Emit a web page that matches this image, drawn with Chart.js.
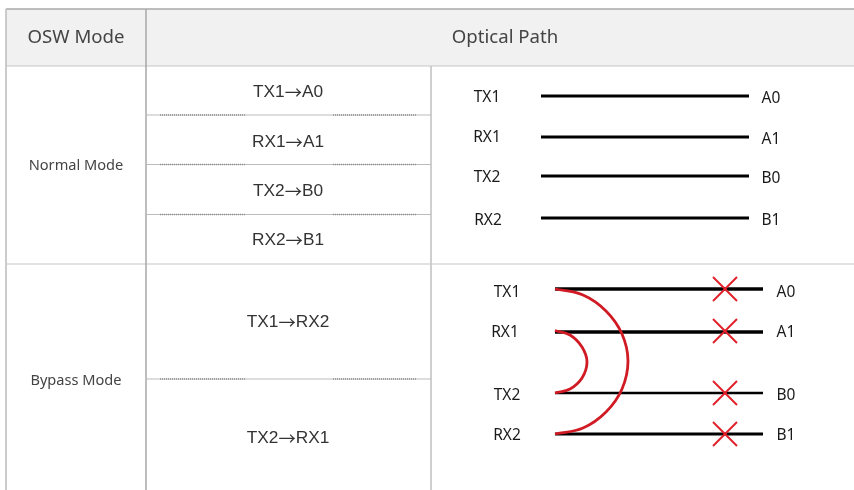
<!DOCTYPE html>
<html>
<head>
<meta charset="utf-8">
<title>OSW Mode</title>
<style>
  html, body { margin: 0; padding: 0; background: #fff; }
  canvas { display: block; }
</style>
<script src="https://cdn.jsdelivr.net/npm/chart.js@4"></script>
</head>
<body>
<canvas id="oswChart" width="854" height="490"></canvas>
<script>
// table rules (x and y are in picture units)
const headerX = [6, 854];
const headerTop = 9;
const headerBottom = 66;
const sectionRuleY = [66, 264];
const columnRuleX = [6, 146];
const innerColumnX = 431;
const cellRuleY = [115, 164.5, 214.5, 379];

// table text
const headerLabels = ['OSW Mode', 'Optical Path'];
const modeLabels = ['Normal Mode', 'Bypass Mode'];
const modeLabelY = [165.5, 380.5];
const pathFrom = ['TX1', 'RX1', 'TX2', 'RX2', 'TX1', 'TX2'];
const pathTo = ['A0', 'A1', 'B0', 'B1', 'RX2', 'RX1'];
const pathLabelY = [92, 142, 191, 240, 322, 438];

// normal mode diagram
const normalLeft = ['TX1', 'RX1', 'TX2', 'RX2'];
const normalRight = ['A0', 'A1', 'B0', 'B1'];
const normalY = [96, 137, 176, 218];
const normalLeftX = [487, 487, 487, 488];
const normalLeftY = [98, 138, 178, 221];
const normalRightY = [99, 140, 179, 221];

// bypass mode diagram
const bypassLeft = ['TX1', 'RX1', 'TX2', 'RX2'];
const bypassRight = ['A0', 'A1', 'B0', 'B1'];
const bypassY = [289, 332, 393, 434];
const bypassLeftX = [507, 505, 507, 507];
const bypassLeftY = [293, 333, 396, 436];
const bypassWidth = [3.6, 3.4, 2.6, 2.8];
const crossX = 725;
const crossY = [289, 331, 393, 434];

const outerArc = [[555, 289], [583, 295], [606, 311], [622, 334], [628, 361], [622, 389], [606, 412], [583, 428], [555, 434]];
const innerArc = [[555, 330.5], [570, 335], [582, 347], [587, 362], [582, 378], [570, 389], [555, 393]];

function rule(x1, y1, x2, y2, color, width, dash) {
  return {
    data: [{ x: x1, y: y1 }, { x: x2, y: y2 }],
    borderColor: color,
    borderWidth: width,
    borderDash: dash || [],
    pointRadius: 0
  };
}

const datasets = [];

// the first dataset ends up on top
crossY.forEach(y => {
  datasets.push(rule(crossX - 12, y - 12, crossX + 12, y + 12, '#e0202a', 2));
  datasets.push(rule(crossX - 12, y + 12, crossX + 12, y - 12, '#e0202a', 2));
});
[outerArc, innerArc].forEach(arc => {
  datasets.push({
    data: arc.map(p => ({ x: p[0], y: p[1] })),
    borderColor: '#d01a24',
    borderWidth: 2.8,
    pointRadius: 0,
    tension: 0.4
  });
});
bypassY.forEach((y, i) => datasets.push(rule(555, y, 763, y, '#000', bypassWidth[i])));
normalY.forEach(y => datasets.push(rule(541, y, 749, y, '#000', 3)));

cellRuleY.forEach(y => {
  datasets.push(rule(160, y, 245, y, '#909090', 1.4, [1, 1]));
  datasets.push(rule(333, y, 417, y, '#909090', 1.4, [1, 1]));
  datasets.push(rule(146, y, 431, y, '#bcbcbc', 1.2));
});
datasets.push(rule(innerColumnX, headerBottom, innerColumnX, 490, '#c8c8c8', 1));
columnRuleX.forEach((x, i) => datasets.push(rule(x, headerTop, x, 490, i ? '#a8a8a8' : '#c4c4c4', i ? 1.5 : 1)));
sectionRuleY.forEach(y => datasets.push(rule(6, y, 854, y, '#c6c6c6', 1.2)));
datasets.push(rule(6, headerTop, 854, headerTop, '#a9a9a9', 1.4));
datasets.push({
  data: headerX.map(x => ({ x: x, y: headerTop })),
  borderWidth: 0,
  pointRadius: 0,
  backgroundColor: '#f1f1f1',
  fill: { value: headerBottom }
});

// all table text goes through the scales as well
const tableText = {
  id: 'tableText',
  afterDatasetsDraw(chart) {
    const ctx = chart.ctx;
    const sx = chart.scales.x;
    const sy = chart.scales.y;

    function put(text, x, y, font, color, align) {
      ctx.font = font;
      ctx.fillStyle = color;
      ctx.textAlign = align || 'center';
      ctx.textBaseline = 'middle';
      ctx.fillText(text, sx.getPixelForValue(x), sy.getPixelForValue(y));
    }

    ctx.save();
    const headFont = '18.6px "Noto Sans"';
    const modeFont = '14.6px "Noto Sans"';
    const pathFont = '17.3px "Liberation Sans"';
    const arrowFont = '17.3px "Noto Sans CJK TC"';
    const nodeFont = '15.5px "Noto Sans"';

    put(headerLabels[0], 76, 38, headFont, '#444');
    put(headerLabels[1], 505, 38, headFont, '#444');
    modeLabels.forEach((t, i) => put(t, 76, modeLabelY[i], modeFont, '#444'));

    // the arrow comes from a CJK font, the names around it do not
    pathFrom.forEach((t, i) => {
      const y = pathLabelY[i];
      ctx.font = pathFont;
      const w1 = ctx.measureText(t).width;
      const w2 = ctx.measureText(pathTo[i]).width;
      const left = 288 - (w1 + 17.3 + w2) / 2;
      put(t, left, y, pathFont, '#333', 'left');
      put('→', left + w1, y, arrowFont, '#333', 'left');
      put(pathTo[i], left + w1 + 17.3, y, pathFont, '#333', 'left');
    });

    normalLeft.forEach((t, i) => put(t, normalLeftX[i], normalLeftY[i], nodeFont, '#1a1a1a'));
    normalRight.forEach((t, i) => put(t, 771, normalRightY[i], nodeFont, '#1a1a1a'));
    bypassLeft.forEach((t, i) => put(t, bypassLeftX[i], bypassLeftY[i], nodeFont, '#1a1a1a'));
    bypassRight.forEach((t, i) => put(t, 786, bypassLeftY[i], nodeFont, '#1a1a1a'));
    ctx.restore();
  }
};

new Chart(document.getElementById('oswChart'), {
  type: 'scatter',
  data: { datasets: datasets },
  options: {
    responsive: false,
    animation: false,
    showLine: true,
    layout: { padding: 0 },
    plugins: { legend: { display: false }, tooltip: { enabled: false } },
    scales: {
      x: { type: 'linear', display: false, min: 0, max: 854 },
      y: { type: 'linear', display: false, min: 0, max: 490, reverse: true }
    }
  },
  plugins: [tableText]
});
</script>
</body>
</html>
